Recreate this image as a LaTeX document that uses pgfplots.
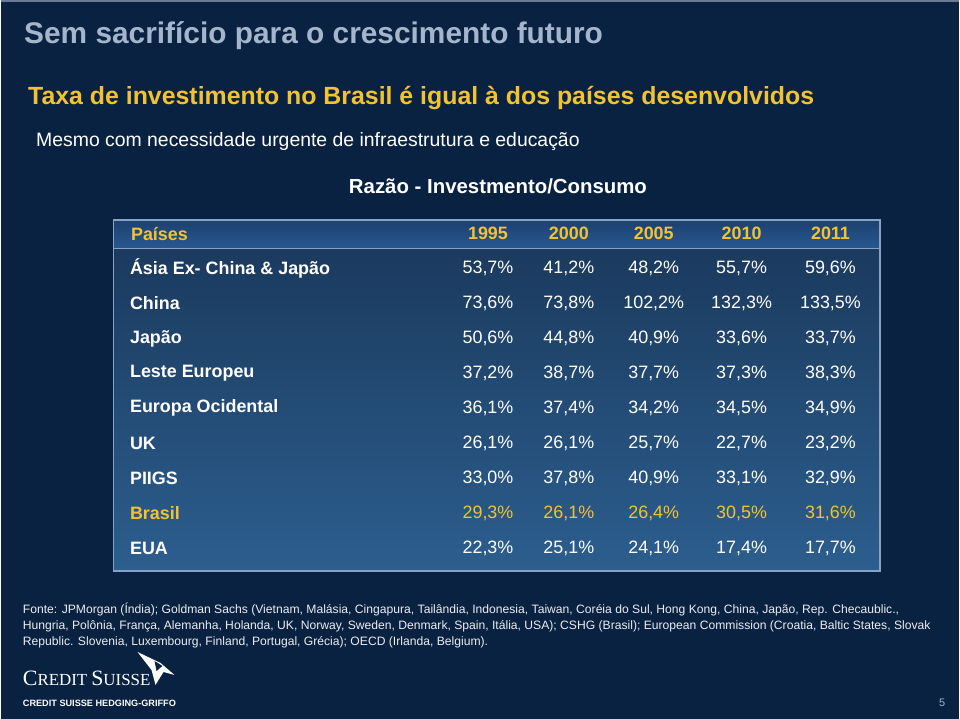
\documentclass[border=0pt]{standalone}
\usepackage{fontspec}
\setmainfont{Liberation Sans}
\newfontfamily\seriffont{Liberation Serif}
\usepackage{pgfplots}
\usepackage{pgfplotstable}
\pgfplotsset{compat=1.18}
\definecolor{bg}{HTML}{0A2242}
\definecolor{ttl}{HTML}{A5B6CC}
\definecolor{ylw}{HTML}{F2C230}
\definecolor{brd}{HTML}{86A2C6}
\definecolor{tabtop}{HTML}{1B3A5E}
\definecolor{tabbot}{HTML}{2C5E8E}
\definecolor{hdtop}{HTML}{1C4070}
\definecolor{hdbot}{HTML}{285890}

% columns: horizontal centre of each year column (px), then one column per country
\pgfplotstableread{
pos  asia china japao leste europa uk   piigs brasil eua
488  53.7 73.6  50.6  37.2  36.1   26.1 33.0  29.3   22.3
569  41.2 73.8  44.8  38.7  37.4   26.1 37.8  26.1   25.1
654  48.2 102.2 40.9  37.7  34.2   25.7 40.9  26.4   24.1
742  55.7 132.3 33.6  37.3  34.5   22.7 33.1  30.5   17.4
831  59.6 133.5 33.7  38.3  34.9   23.2 32.9  31.6   17.7
}\data

\begin{document}
\begin{tikzpicture}
\begin{axis}[
  hide axis, scale only axis, width=960bp, height=720bp,
  xmin=0, xmax=960, ymin=0, ymax=720, y dir=reverse,
  clip=false,
  /pgf/number format/.cd, fixed, fixed zerofill, precision=1, use comma, assume math mode=true,
  /pgfplots/.cd,
  valnode/.style={draw=none, mark=none, point meta=explicit,
    nodes near coords={\pgfmathprintnumber{\pgfplotspointmeta}\%},
    every node near coord/.append style={anchor=center, inner sep=0pt,
      font=\fontsize{18}{18}\selectfont, text=#1}},
  valnode/.default=white,
]
% background
\fill[bg] (axis cs:0,0) rectangle (axis cs:960,720);
\draw[ttl!60!bg, line width=1.5pt] (axis cs:0,1) -- (axis cs:960,1);
% table box
\shade[top color=tabtop, bottom color=tabbot] (axis cs:113,249) rectangle (axis cs:881,572);
\shade[top color=hdtop, bottom color=hdbot] (axis cs:113,220) rectangle (axis cs:881,249);
\draw[brd, line width=1.2pt] (axis cs:113,249) -- (axis cs:881,249);
\draw[brd, line width=1.8pt] (axis cs:113,220) rectangle (axis cs:881,572);

% titles
\node[anchor=west, text=ttl, font=\bfseries\fontsize{30}{30}\selectfont] at (axis cs:20,36) {Sem sacrifício para o crescimento futuro};
\node[anchor=west, text=ylw, font=\bfseries\fontsize{25}{25}\selectfont] at (axis cs:24,98) {Taxa de investimento no Brasil é igual à dos países desenvolvidos};
\node[anchor=west, text=white, font=\fontsize{19.5}{19.5}\selectfont] at (axis cs:32,142) {Mesmo com necessidade urgente de infraestrutura e educação};
\node[text=white, font=\bfseries\fontsize{20.5}{20.5}\selectfont] at (axis cs:498,187) {Razão - Investmento/Consumo};

% header
\node[anchor=west, text=ylw, font=\bfseries\fontsize{18}{18}\selectfont] at (axis cs:127,234) {Países};
\node[text=ylw, font=\bfseries\fontsize{18}{18}\selectfont] at (axis cs:488,234) {1995};
\node[text=ylw, font=\bfseries\fontsize{18}{18}\selectfont] at (axis cs:569,234) {2000};
\node[text=ylw, font=\bfseries\fontsize{18}{18}\selectfont] at (axis cs:654,234) {2005};
\node[text=ylw, font=\bfseries\fontsize{18}{18}\selectfont] at (axis cs:742,234) {2010};
\node[text=ylw, font=\bfseries\fontsize{18}{18}\selectfont] at (axis cs:831,234) {2011};

% row labels
\begin{scope}[every node/.style={anchor=west, text=white, font=\bfseries\fontsize{18}{18}\selectfont}]
\node at (axis cs:126,269) {Ásia Ex- China \& Japão};
\node at (axis cs:126,304) {China};
\node at (axis cs:126,339) {Japão};
\node at (axis cs:126,374) {Leste Europeu};
\node at (axis cs:126,409) {Europa Ocidental};
\node at (axis cs:126,444) {UK};
\node at (axis cs:126,479) {PIIGS};
\node[text=ylw] at (axis cs:126,514) {Brasil};
\node at (axis cs:126,549) {EUA};
\end{scope}

% values
\addplot[valnode] table[x=pos, y expr=269, meta=asia] {\data};
\addplot[valnode] table[x=pos, y expr=304, meta=china] {\data};
\addplot[valnode] table[x=pos, y expr=339, meta=japao] {\data};
\addplot[valnode] table[x=pos, y expr=374, meta=leste] {\data};
\addplot[valnode] table[x=pos, y expr=409, meta=europa] {\data};
\addplot[valnode] table[x=pos, y expr=444, meta=uk] {\data};
\addplot[valnode] table[x=pos, y expr=479, meta=piigs] {\data};
\addplot[valnode=ylw] table[x=pos, y expr=514, meta=brasil] {\data};
\addplot[valnode] table[x=pos, y expr=549, meta=eua] {\data};

% footnote
\begin{scope}[every node/.style={anchor=base west, text=white!92!bg, font=\fontsize{12.2}{12.2}\selectfont, inner sep=0pt}]
\node at (axis cs:22,614) {Fonte: JPMorgan (Índia); Goldman Sachs (Vietnam, Malásia, Cingapura, Tailândia, Indonesia, Taiwan, Coréia do Sul, Hong Kong, China, Japão, Rep. Checaublic.,};
\node at (axis cs:22,630) {Hungria, Polônia, França, Alemanha, Holanda, UK, Norway, Sweden, Denmark, Spain, Itália, USA); CSHG (Brasil); European Commission (Croatia, Baltic States, Slovak};
\node at (axis cs:22,646) {Republic. Slovenia, Luxembourg, Finland, Portugal, Grécia); OECD (Irlanda, Belgium).};
\end{scope}

% logo
\node[anchor=base west, inner sep=0pt, text=white] at (axis cs:22,687)
  {\seriffont\fontsize{22}{22}\selectfont C\fontsize{17}{17}\selectfont REDIT\hspace{4bp}\fontsize{22}{22}\selectfont S\fontsize{17}{17}\selectfont UISSE};
\fill[white] (axis cs:137,653) -- (axis cs:160,664) -- (axis cs:174,676) -- (axis cs:163,673) -- (axis cs:155,686) -- (axis cs:151,671) -- cycle;
\fill[bg] (axis cs:154,662) -- (axis cs:162,667) -- (axis cs:156,672) -- cycle;
\node[anchor=base west, inner sep=0pt, text=white, font=\bfseries\fontsize{9.2}{9.2}\selectfont] at (axis cs:22,708) {CREDIT SUISSE HEDGING-GRIFFO};
\node[anchor=base east, inner sep=0pt, text=ttl, font=\fontsize{11}{11}\selectfont] at (axis cs:946,708) {5};
\end{axis}
\end{tikzpicture}
\end{document}
